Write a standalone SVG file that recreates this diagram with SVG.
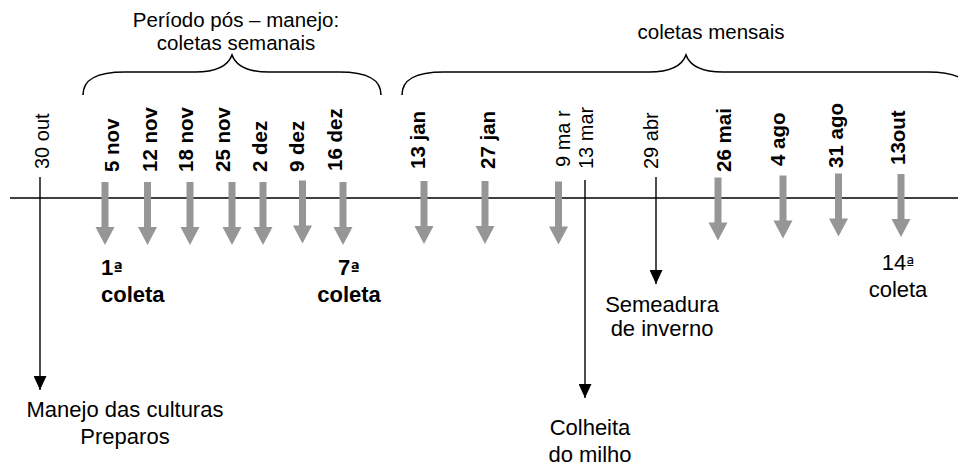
<svg xmlns="http://www.w3.org/2000/svg" xmlns:xlink="http://www.w3.org/1999/xlink" width="958" height="468" viewBox="0 0 958 468">
<style>
text{font-family:"Liberation Sans",Arial,sans-serif;fill:#000}
.hd{font-size:20.5px;text-anchor:middle}
.dr{font-size:20px}
.db{font-size:20.5px;font-weight:bold}
.lb{font-size:22px}
.lbb{font-size:22px;font-weight:bold}
.mid{text-anchor:middle}
.ord{font-family:"DejaVu Sans",sans-serif;font-size:17px}
.ln{stroke:#000;stroke-width:1.4;fill:none}
.br{stroke:#000;stroke-width:1.6;fill:none}
.ga{fill:#969696}
</style>
<defs>
<path id="garrow" d="M-3.5,0 H3.5 V45 H9.5 L0,63 L-9.5,45 H-3.5 Z"/>
<marker id="ah" markerUnits="userSpaceOnUse" markerWidth="14" markerHeight="13" refX="14" refY="6.5" orient="auto">
<path d="M0,0 L14,6.5 L0,13 Z" fill="#000"/>
</marker>
</defs>
<rect width="958" height="468" fill="#fff"/>

<g id="headers">
<text class="hd" x="236" y="27">Período pós – manejo:</text>
<text class="hd" x="236" y="50">coletas semanais</text>
<text class="hd" x="711" y="39">coletas mensais</text>
</g>

<g id="braces">
<path class="br" d="M83,95 C83,80 95,72 125,72 L195,72 C215,72 228,66 232,55 C236,66 249,72 269,72 L339,72 C369,72 381,80 381,95"/>
<path class="br" d="M402,95 C402,80 414,72 444,72 L649,72 C669,72 682,66 686,55 C690,66 703,72 723,72 L928,72 C958,72 970,80 970,95"/>
</g>

<g id="timeline">
<line class="ln" x1="10" y1="198" x2="958" y2="198"/>
</g>

<g id="date-labels">
<text class="dr" transform="translate(49,169) rotate(-90)">30 out</text>
<text class="db" transform="translate(119,172) rotate(-90)">5 nov</text>
<text class="db" transform="translate(156.5,172) rotate(-90)">12 nov</text>
<text class="db" transform="translate(193,172) rotate(-90)">18 nov</text>
<text class="db" transform="translate(230,172) rotate(-90)">25 nov</text>
<text class="db" transform="translate(266.5,172) rotate(-90)">2 dez</text>
<text class="db" transform="translate(304,172) rotate(-90)">9 dez</text>
<text class="db" transform="translate(341.5,171) rotate(-90)">16 dez</text>
<text class="db" transform="translate(425,169) rotate(-90)">13 jan</text>
<text class="db" transform="translate(495,169) rotate(-90)">27 jan</text>
<text class="dr" transform="translate(570,167) rotate(-90)">9 ma r</text>
<text class="dr" transform="translate(593,169) rotate(-90)">13 mar</text>
<text class="dr" transform="translate(658,169) rotate(-90)">29 abr</text>
<text class="db" transform="translate(730.5,172) rotate(-90)">26 mai</text>
<text class="db" transform="translate(785,166) rotate(-90)">4 ago</text>
<text class="db" transform="translate(843,168) rotate(-90)">31 ago</text>
<text class="db" transform="translate(905,165) rotate(-90)">13out</text>
</g>

<g id="collection-arrows">
<use xlink:href="#garrow" class="ga" transform="translate(105,182)"/>
<use xlink:href="#garrow" class="ga" transform="translate(147.5,182)"/>
<use xlink:href="#garrow" class="ga" transform="translate(190,182)"/>
<use xlink:href="#garrow" class="ga" transform="translate(232,182)"/>
<use xlink:href="#garrow" class="ga" transform="translate(263,182)"/>
<use xlink:href="#garrow" class="ga" transform="translate(302.5,180.5)"/>
<use xlink:href="#garrow" class="ga" transform="translate(343,182)"/>
<use xlink:href="#garrow" class="ga" transform="translate(424,181)"/>
<use xlink:href="#garrow" class="ga" transform="translate(485,181)"/>
<use xlink:href="#garrow" class="ga" transform="translate(558.5,181.5)"/>
<use xlink:href="#garrow" class="ga" transform="translate(718,177.5)"/>
<use xlink:href="#garrow" class="ga" transform="translate(783,175.5)"/>
<use xlink:href="#garrow" class="ga" transform="translate(838.5,173.5)"/>
<use xlink:href="#garrow" class="ga" transform="translate(901,174)"/>
</g>

<g id="event-arrows">
<line class="ln" x1="40" y1="177" x2="40" y2="390" marker-end="url(#ah)"/>
<line class="ln" x1="585" y1="180" x2="585" y2="398" marker-end="url(#ah)"/>
<line class="ln" x1="656" y1="177" x2="656" y2="284" marker-end="url(#ah)"/>
</g>

<g id="collection-labels">
<text class="lbb" x="101" y="275">1<tspan class="ord">ª</tspan></text>
<text class="lbb" x="101" y="302">coleta</text>
<text class="lbb mid" x="349" y="275">7<tspan class="ord">ª</tspan></text>
<text class="lbb mid" x="349" y="302">coleta</text>
<text class="lb mid" x="898" y="270">14<tspan class="ord">ª</tspan></text>
<text class="lb mid" x="898" y="297">coleta</text>
</g>

<g id="event-labels">
<text class="lb mid" x="662" y="312">Semeadura</text>
<text class="lb mid" x="662" y="336">de inverno</text>
<text class="lb mid" x="125" y="417">Manejo das culturas</text>
<text class="lb mid" x="125" y="444">Preparos</text>
<text class="lb mid" x="590" y="435">Colheita</text>
<text class="lb mid" x="590" y="462">do milho</text>
</g>
</svg>
